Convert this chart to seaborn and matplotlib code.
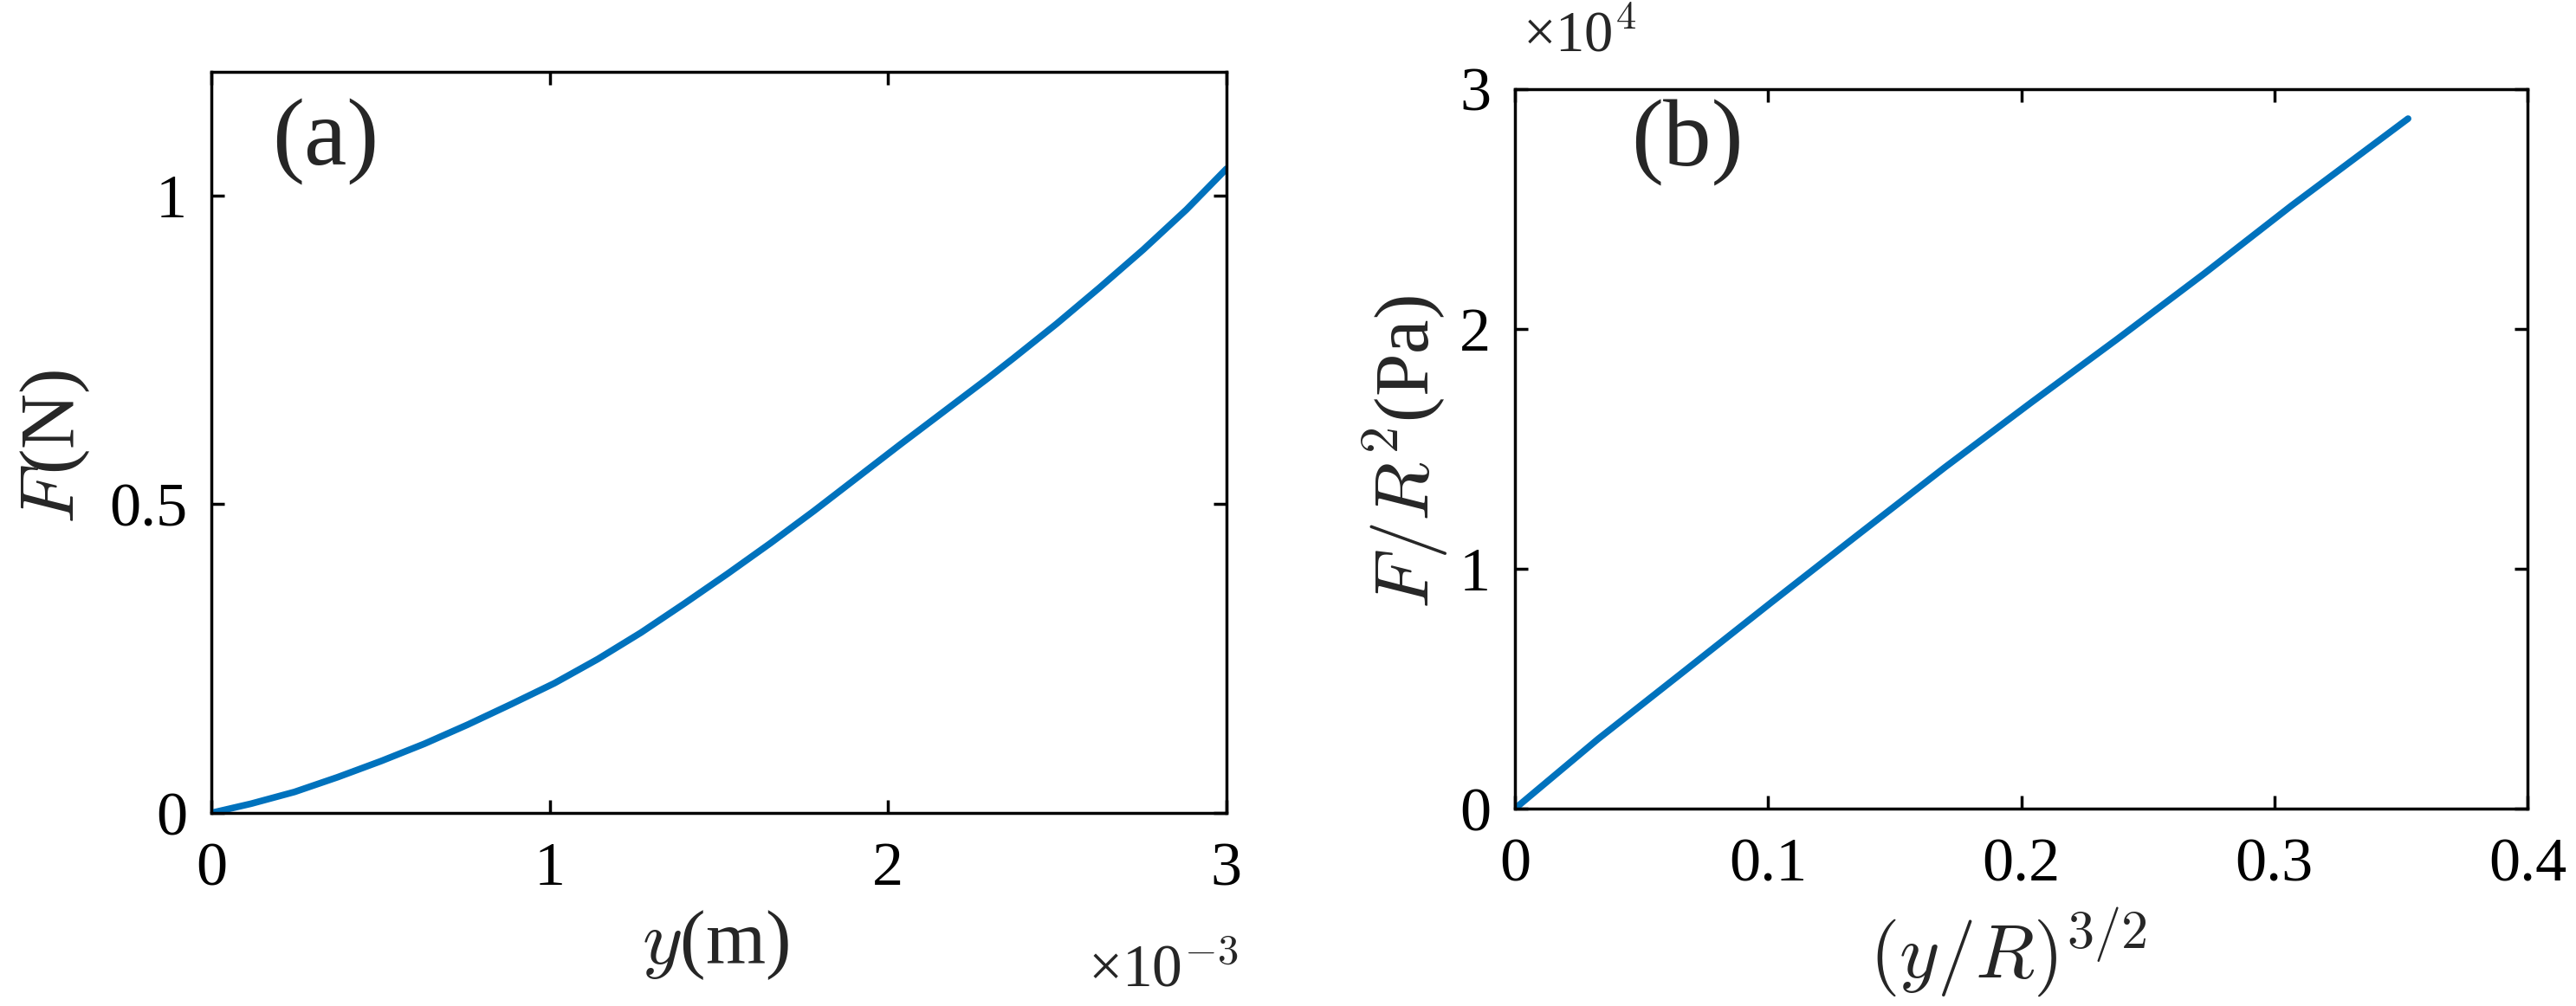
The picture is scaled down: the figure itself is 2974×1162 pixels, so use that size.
# Curvas força x deslocamento: (a) F(y) e (b) F/R^2 contra (y/R)^{3/2}

import pandas as pd
import matplotlib
matplotlib.use("Agg")
import matplotlib.pyplot as plt
import seaborn as sns
from matplotlib.ticker import FuncFormatter

# ---------------------------
# Dados
# ---------------------------
# painel (a): deslocamento em 1e-3 m, força em N
desloc_mm = [0.0, 0.118, 0.246, 0.374, 0.502, 0.630, 0.758, 0.886, 1.014, 1.142, 1.270,
             1.398, 1.525, 1.653, 1.781, 1.909, 2.037, 2.165, 2.293, 2.370, 2.498,
             2.626, 2.754, 2.882, 3.000]
forca_N = [0.0, 0.015, 0.034, 0.058, 0.084, 0.112, 0.143, 0.176, 0.210, 0.249, 0.292,
           0.339, 0.387, 0.437, 0.489, 0.543, 0.597, 0.650, 0.703, 0.736, 0.792,
           0.851, 0.912, 0.977, 1.043]

# painel (b): (y/R)^{3/2} e F/R^2 em 1e4 Pa
razao = [0.0, 0.0328, 0.0671, 0.1013, 0.1355, 0.1697, 0.2039, 0.2382, 0.2724, 0.3066, 0.3528]
pressao_1e4 = [0.0, 0.290, 0.575, 0.860, 1.142, 1.422, 1.693, 1.960, 2.232, 2.513, 2.877]

df_a = pd.DataFrame({"y": [v * 1e-3 for v in desloc_mm], "F": forca_N})
df_b = pd.DataFrame({"r": razao, "p": [v * 1e4 for v in pressao_1e4]})

# ---------------------------
# Estilo
# ---------------------------
sns.set_style("ticks")
plt.rcParams["font.family"] = ["Liberation Serif", "DejaVu Serif"]
plt.rcParams["mathtext.fontset"] = "cm"

azul = "#0072BD"
fmt = FuncFormatter(lambda v, p: "%g" % v)

fig = plt.figure(figsize=(29.74, 11.62), dpi=100)
ax1 = fig.add_axes([0.0820, 0.1919, 0.3941, 0.7367])
ax2 = fig.add_axes([0.5881, 0.1962, 0.3931, 0.7152])

# ---------------------------
# Painel (a)
# ---------------------------
sns.lineplot(data=df_a, x="y", y="F", ax=ax1, color=azul, linewidth=5.5, errorbar=None)
ax1.set_xlim(0, 3e-3)
ax1.set_ylim(0, 1.2)
ax1.set_xticks([0, 1e-3, 2e-3, 3e-3])
ax1.set_yticks([0, 0.5, 1])
ax1.xaxis.set_major_formatter(FuncFormatter(lambda v, p: "%g" % round(v * 1e3, 6)))
ax1.yaxis.set_major_formatter(fmt)
ax1.set_xlabel(r"$y$(m)", fontsize=64)
ax1.set_ylabel(r"$F$(N)", fontsize=64)
ax1.xaxis.set_label_coords(0.497, -0.128)
ax1.yaxis.set_label_coords(-0.118, 0.495)
ax1.text(0.06, 0.905, "(a)", transform=ax1.transAxes, fontsize=80, ha="left", va="center")
ax1.text(1.012, -0.215, r"×10$^{-3}$", transform=ax1.transAxes, fontsize=50, ha="right", va="center")

# ---------------------------
# Painel (b)
# ---------------------------
sns.lineplot(data=df_b, x="r", y="p", ax=ax2, color=azul, linewidth=5.5, errorbar=None)
ax2.set_xlim(0, 0.4)
ax2.set_ylim(0, 3e4)
ax2.set_xticks([0, 0.1, 0.2, 0.3, 0.4])
ax2.set_yticks([0, 1e4, 2e4, 3e4])
ax2.xaxis.set_major_formatter(fmt)
ax2.yaxis.set_major_formatter(FuncFormatter(lambda v, p: "%g" % round(v / 1e4, 6)))
ax2.set_xlabel(r"$(y/R)^{3/2}$", fontsize=64)
ax2.set_ylabel(r"$F/R^2$(Pa)", fontsize=64)
ax2.xaxis.set_label_coords(0.487, -0.135)
ax2.yaxis.set_label_coords(-0.064, 0.496)
ax2.text(0.115, 0.925, "(b)", transform=ax2.transAxes, fontsize=80, ha="left", va="center")
ax2.text(0.008, 1.072, r"×10$^{4}$", transform=ax2.transAxes, fontsize=48, ha="left", va="center")

for ax in (ax1, ax2):
    for s in ax.spines.values():
        s.set_visible(True)
        s.set_linewidth(2.5)
        s.set_color("black")
    ax.tick_params(direction="in", length=11, width=2.5, labelsize=52,
                   top=True, right=True, colors="black")
    ax.tick_params(axis="x", pad=24)
    ax.tick_params(axis="y", pad=20)

fig.savefig("out.png", dpi=100)
